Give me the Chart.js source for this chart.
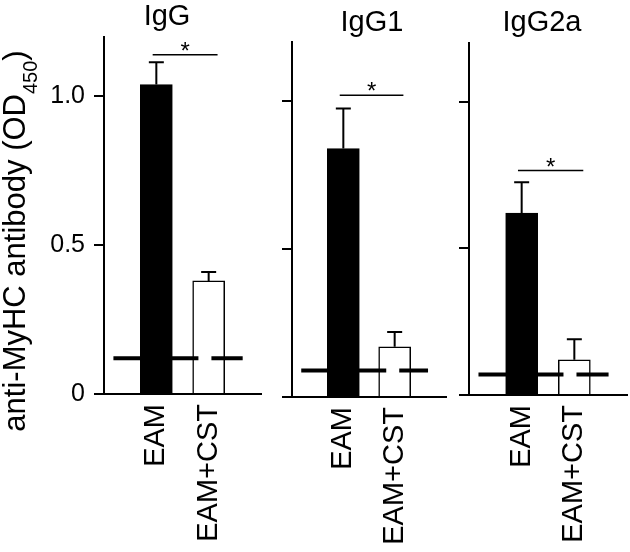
<!DOCTYPE html>
<html>
<head>
<meta charset="utf-8">
<script src="https://cdn.jsdelivr.net/npm/chart.js@4.4.1/dist/chart.umd.min.js"></script>
<style>
  html, body { margin: 0; padding: 0; background: #fff; }
  #wrap { position: relative; width: 630px; height: 552px; overflow: hidden; }
  #wrap canvas { position: absolute; top: 0; }
</style>
</head>
<body>
<div id="wrap">
  <canvas id="panel0" style="left:0px" width="270" height="552"></canvas>
  <canvas id="panel1" style="left:270px" width="180" height="552"></canvas>
  <canvas id="panel2" style="left:450px" width="180" height="552"></canvas>
</div>
<script>
'use strict'
// data
var panelTitles = ['IgG', 'IgG1', 'IgG2a'];
var groups = ['EAM', 'EAM+CST'];
var groupPos = [1, 2];
var eamMean = [1.04, 0.84, 0.62];
var eamErr = [0.075, 0.135, 0.105];
var cstMean = [0.38, 0.17, 0.12];
var cstErr = [0.03, 0.05, 0.07];
var normalLevel = [0.12, 0.09, 0.07];
var sigLevel = [1.14, 1.02, 0.765];
var yTicks = [0, 0.5, 1.0];

var FONT = '"Liberation Sans", Arial, Helvetica, sans-serif';
var BASE_FROM = 0.18, BASE_TO = 2.65;
var SIG_FROM = 0.93, SIG_TO = 2.17;

var layouts = [
    { axisW: 104, top: 37, xAxisH: 158, right: 9, titleX: 167, titleY: 25, labels: true },
    { axisW: 22, top: 42, xAxisH: 155, right: 4, titleX: 102, titleY: 31, labels: false },
    { axisW: 19, top: 43, xAxisH: 157, right: 3, titleX: 92, titleY: 31, labels: false }
];

function makeAnnotations(i) {
    return {
        id: 'annotate' + i,
        afterDatasetsDraw: function(chart) {
            var ctx = chart.ctx;
            var xs = chart.scales.x, ys = chart.scales.y;
            var means = [eamMean[i], cstMean[i]];
            var errs = [eamErr[i], cstErr[i]];
            ctx.save();
            ctx.strokeStyle = '#000';
            ctx.fillStyle = '#000';
            ctx.lineWidth = 2;
            // error bars (upper only)
            for (var j = 0; j < groups.length; j++) {
                var x = xs.getPixelForValue(groupPos[j]);
                var y0 = ys.getPixelForValue(means[j]);
                var y1 = ys.getPixelForValue(means[j] + errs[j]);
                ctx.beginPath();
                ctx.moveTo(x, y0);
                ctx.lineTo(x, y1);
                ctx.moveTo(x - 7.5, y1);
                ctx.lineTo(x + 7.5, y1);
                ctx.stroke();
            }
            // significance line and star
            var ys2 = ys.getPixelForValue(sigLevel[i]);
            var xa = xs.getPixelForValue(SIG_FROM), xb = xs.getPixelForValue(SIG_TO);
            ctx.lineWidth = 1.5;
            ctx.beginPath();
            ctx.moveTo(xa, ys2);
            ctx.lineTo(xb, ys2);
            ctx.stroke();
            ctx.font = '24px ' + FONT;
            ctx.textAlign = 'center';
            ctx.textBaseline = 'alphabetic';
            ctx.fillText('*', (xa + xb) / 2, ys2 + 4);
            // panel title
            var L = layouts[i];
            ctx.font = '29px ' + FONT;
            ctx.fillText(panelTitles[i], L.titleX, L.titleY);
            // y axis title with subscript
            if (L.labels) {
                var main = 'anti-MyHC antibody (OD', sub = '450', close = ')';
                ctx.translate(25, 241);
                ctx.rotate(-Math.PI / 2);
                ctx.textAlign = 'left';
                ctx.font = '31px ' + FONT;
                var w1 = ctx.measureText(main).width;
                var w3 = ctx.measureText(close).width;
                ctx.font = '20px ' + FONT;
                var w2 = ctx.measureText(sub).width;
                var px = -(w1 + w2 + w3) / 2;
                ctx.font = '31px ' + FONT;
                ctx.fillText(main, px, 0);
                px += w1;
                ctx.font = '20px ' + FONT;
                ctx.fillText(sub, px, 12);
                px += w2;
                ctx.font = '31px ' + FONT;
                ctx.fillText(close, px, 0);
            }
            ctx.restore();
        }
    };
}

panelTitles.forEach(function(title, i) {
    var L = layouts[i];
    var ctx = document.getElementById('panel' + i);
    new Chart(ctx, {
        type: 'bar',
        data: {
            datasets: [{
                type: 'line',
                data: [{ x: BASE_FROM, y: normalLevel[i] }, { x: BASE_TO, y: normalLevel[i] }],
                borderColor: '#000',
                borderWidth: 4,
                borderDash: [85, 13],
                pointRadius: 0,
                order: 0
            }, {
                type: 'bar',
                data: groupPos.map(function(p, j) {
                    return { x: p, y: j === 0 ? eamMean[i] : cstMean[i] };
                }),
                backgroundColor: ['#000', '#fff'],
                borderColor: '#000',
                borderWidth: 1.5,
                borderSkipped: 'bottom',
                barThickness: 32,
                order: 1
            }]
        },
        options: {
            responsive: false,
            animation: false,
            layout: { padding: { top: L.top, right: L.right, left: 0, bottom: 0 } },
            plugins: {
                legend: { display: false },
                tooltip: { enabled: false }
            },
            scales: {
                x: {
                    type: 'linear',
                    min: 0,
                    max: 3,
                    offset: false,
                    afterBuildTicks: function(scale) {
                        scale.ticks = groupPos.map(function(v) { return { value: v }; });
                    },
                    afterFit: function(scale) { scale.height = L.xAxisH; },
                    grid: { display: false, drawTicks: false },
                    border: { display: true, color: '#000', width: 2 },
                    ticks: {
                        autoSkip: false,
                        minRotation: 90,
                        maxRotation: 90,
                        padding: 10,
                        color: '#000',
                        font: { family: FONT, size: 29 },
                        callback: function(v) { return groups[groupPos.indexOf(v)]; }
                    }
                },
                y: {
                    min: 0,
                    max: 1.2,
                    afterBuildTicks: function(scale) {
                        scale.ticks = yTicks.map(function(v) { return { value: v }; });
                    },
                    afterFit: function(scale) { scale.width = L.axisW; },
                    grid: { drawOnChartArea: false, drawTicks: true, tickLength: 10, color: '#000', lineWidth: 2 },
                    border: { display: true, color: '#000', width: 2 },
                    ticks: {
                        display: L.labels,
                        padding: 9,
                        color: '#000',
                        font: { family: FONT, size: 25 },
                        callback: function(v) { return v === 0 ? '0' : v.toFixed(1); }
                    }
                }
            }
        },
        plugins: [makeAnnotations(i)]
    });
});
</script>
</body>
</html>
